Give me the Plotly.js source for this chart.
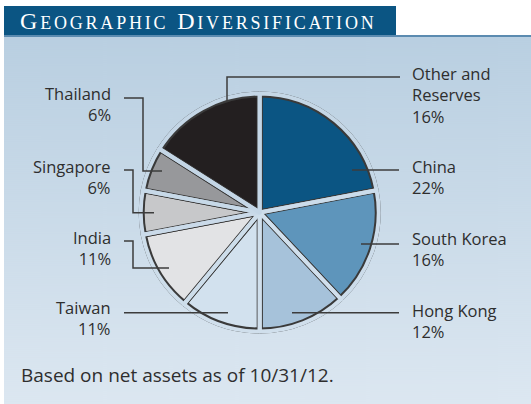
<!DOCTYPE html>
<html><head><meta charset="utf-8">
<script src="https://cdn.plot.ly/plotly-3.0.1.min.js"></script>
<style>html,body{margin:0;padding:0;background:#fff;} #chart{width:531px;height:404px;}
g.annotation[data-index="9"] text{letter-spacing:2.8px;}
</style>
</head><body><div id="chart"></div>
<script>
// ---- data ----
const categories = ['China', 'South Korea', 'Hong Kong', 'Taiwan', 'India', 'Singapore', 'Thailand', 'Other and Reserves'];
const shares = [22, 16, 12, 11, 11, 6, 6, 16];
const labelText = ['China', 'South Korea', 'Hong Kong', 'Taiwan', 'India', 'Singapore', 'Thailand', 'Other and<br>Reserves'];
const chartTitle = 'Geographic Diversification';
const footnote = 'Based on net assets as of 10/31/12.';

// ---- styles ----
const sliceColors = ['#0b5583', '#5e95bb', '#a6c2da', '#d2e1ee', '#e2e3e5', '#c7c8ca', '#97989b', '#231f20'];
const W = 531, H = 404;
const px = x => x / W, py = y => 1 - y / H;
const panelTop = 37, panelLeft = 4;
const bgTop = [185, 207, 225], bgBot = [220, 231, 241];
function bgAt(y) {
  const f = Math.max(0, Math.min(1, (y - panelTop) / (H - panelTop)));
  const c = bgTop.map((v, i) => Math.round(v + (bgBot[i] - v) * f));
  return 'rgb(' + c.join(',') + ')';
}
// gradient panel image
const cv = document.createElement('canvas'); cv.width = 8; cv.height = H - panelTop;
const ctx = cv.getContext('2d');
const grd = ctx.createLinearGradient(0, 0, 0, cv.height);
grd.addColorStop(0, bgAt(panelTop)); grd.addColorStop(1, bgAt(H));
ctx.fillStyle = grd; ctx.fillRect(0, 0, cv.width, cv.height);
const bgSrc = cv.toDataURL();

const cx = 259.7, cy = 212.5, rA = 118, rB = 119;
const dom = r => ({x: [px(cx - r), px(cx + r)], y: [py(cy + r), py(cy - r)]});

// per-slice gap colour following the background gradient
const total = shares.reduce((a, b) => a + b, 0);
let acc = 0;
const gapColors = shares.map(v => {
  const mid = (acc + v / 2) / total * 2 * Math.PI; acc += v;
  return bgAt(cy - 0.6 * rA * Math.cos(mid));
});

const base = {type: 'pie', labels: categories, values: shares, sort: false, direction: 'clockwise',
  rotation: 0, textinfo: 'none', showlegend: false};
const traceA = Object.assign({}, base, {domain: dom(rA),
  marker: {colors: sliceColors, line: {color: '#3a3a3a', width: 6}}});
const traceB = Object.assign({}, base, {domain: dom(rB), hoverinfo: 'skip',
  marker: {colors: shares.map(() => 'rgba(0,0,0,0)'), line: {color: gapColors, width: 4}}});

// title in small caps
function smallCaps(s) {
  return s.split(' ').map(w => w[0].toUpperCase() + '<span style="font-size:18px">' + w.slice(1).toUpperCase() + '</span>').join(' ');
}

// label layout (pixel positions)
const labelPos = [
  {side: 'R', base: 172, path: 'M352,170 L399,170'},
  {side: 'R', base: 244, path: 'M361,244 L399,244'},
  {side: 'R', base: 316, path: 'M292,312.7 L399,312.7'},
  {side: 'L', base: 313, path: 'M124,312.7 L228,312.7'},
  {side: 'L', base: 243, path: 'M124,241 L133,241 L133,268 L169,268'},
  {side: 'L', base: 172, path: 'M124,170 L133,170 L133,212.7 L154,212.7'},
  {side: 'L', base: 99, path: 'M124,98 L143,98 L143,171 L162,171'},
  {side: 'R', base: 79, path: 'M227,100 L227,77 L400,77'}
];
function toPaperPath(p) {
  return p.replace(/(-?[\d.]+),(-?[\d.]+)/g, (m, a, b) => px(+a).toFixed(5) + ',' + py(+b).toFixed(5));
}
const labelFont = {family: 'Open Sans', size: 16.5, color: '#2e2e2e'};
const annotations = categories.map((c, i) => {
  const L = labelPos[i];
  return {xref: 'paper', yref: 'paper', showarrow: false,
    x: L.side === 'R' ? px(410) : px(113), xanchor: L.side === 'R' ? 'left' : 'right',
    align: L.side === 'R' ? 'left' : 'right',
    y: py(L.base - 19.5), yanchor: 'top',
    text: labelText[i] + '<br>' + shares[i] + '%', font: labelFont};
});
annotations.push({xref: 'paper', yref: 'paper', showarrow: false, x: px(19), xanchor: 'left',
  y: py(360), yanchor: 'top', text: footnote, font: {family: 'Open Sans', size: 19, color: '#2e2e2e'}});
annotations.push({xref: 'paper', yref: 'paper', showarrow: false, x: px(18), xanchor: 'left', align: 'left',
  y: py(21), yanchor: 'middle', text: smallCaps(chartTitle),
  font: {family: 'Liberation Serif', size: 24, color: '#ffffff'}});

const shapes = [
  {type: 'rect', xref: 'paper', yref: 'paper', x0: px(4), x1: px(396), y0: py(6), y1: py(35.5),
    fillcolor: '#0b5583', line: {width: 0}, layer: 'below'},
  {type: 'rect', xref: 'paper', yref: 'paper', x0: px(4), x1: px(531), y0: py(35), y1: py(37),
    fillcolor: '#5b8bb0', line: {width: 0}, layer: 'below'}
].concat(labelPos.map(L => ({type: 'path', xref: 'paper', yref: 'paper', path: toPaperPath(L.path),
  line: {color: '#3c3c3c', width: 1.5}, layer: 'above'})));

const layout = {width: W, height: H, margin: {l: 0, r: 0, t: 0, b: 0},
  paper_bgcolor: '#ffffff', plot_bgcolor: 'rgba(0,0,0,0)',
  images: [{source: bgSrc, xref: 'paper', yref: 'paper', x: px(panelLeft), y: py(panelTop),
    sizex: 1 - px(panelLeft), sizey: (H - panelTop) / H,
    sizing: 'stretch', xanchor: 'left', yanchor: 'top', layer: 'below'}],
  shapes: shapes, annotations: annotations};

Plotly.newPlot('chart', [traceA, traceB], layout, {displayModeBar: false, staticPlot: true});
</script></body></html>
